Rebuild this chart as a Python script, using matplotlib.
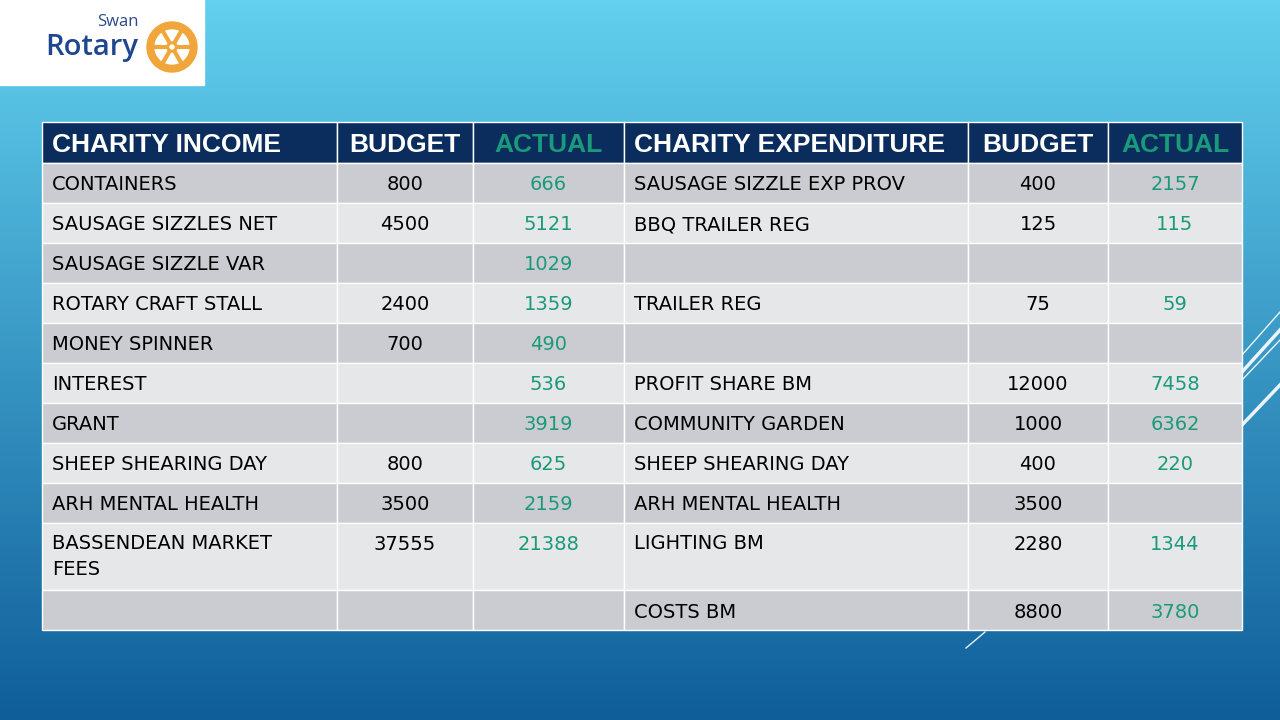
import matplotlib.pyplot as plt
import matplotlib.patches as mpatches
import numpy as np

# data
income_names = ['CONTAINERS', 'SAUSAGE SIZZLES NET', 'SAUSAGE SIZZLE VAR', 'ROTARY CRAFT STALL',
                'MONEY SPINNER', 'INTEREST', 'GRANT', 'SHEEP SHEARING DAY', 'ARH MENTAL HEALTH',
                'BASSENDEAN MARKET\nFEES', '']
income_budget = ['800', '4500', '', '2400', '700', '', '', '800', '3500', '37555', '']
income_actual = ['666', '5121', '1029', '1359', '490', '536', '3919', '625', '2159', '21388', '']
exp_names = ['SAUSAGE SIZZLE EXP PROV', 'BBQ TRAILER REG', '', 'TRAILER REG', '', 'PROFIT SHARE BM',
             'COMMUNITY GARDEN', 'SHEEP SHEARING DAY', 'ARH MENTAL HEALTH', 'LIGHTING BM', 'COSTS BM']
exp_budget = ['400', '125', '', '75', '', '12000', '1000', '400', '3500', '2280', '8800']
exp_actual = ['2157', '115', '', '59', '', '7458', '6362', '220', '', '1344', '3780']
headers = ['CHARITY INCOME', 'BUDGET', 'ACTUAL', 'CHARITY EXPENDITURE', 'BUDGET', 'ACTUAL']

col_x = [42, 337, 473, 624, 968, 1108, 1242]
row_y = [163, 203, 243, 283, 323, 363, 403, 443, 483, 523, 590, 630]
head_top = 122
teal = '#1a9a7a'
navy = '#0b2d5e'
body_font = 'DejaVu Sans'

fig = plt.figure(figsize=(12.8, 7.2), dpi=100)
ax = fig.add_axes([0, 0, 1, 1])
ax.set_xlim(0, 1280)
ax.set_ylim(720, 0)
ax.axis('off')

# background gradient
t = np.linspace(0, 1, 200)[:, None]
top = np.array([0x62, 0xd0, 0xee]) / 255
bot = np.array([0x0f, 0x5e, 0x9a]) / 255
grad = top * (1 - t[..., None]) + bot * t[..., None]
grad = np.repeat(grad, 2, axis=1)
ax.imshow(grad, extent=[0, 1280, 720, 0], aspect='auto', zorder=0)

# decorative lines
for (x0, y0, x1, y1, lw) in [(1242, 355, 1280, 312, 1), (1242, 372, 1280, 330, 2.5),
                             (1242, 380, 1280, 340, 1), (1242, 425, 1280, 385, 2.5),
                             (966, 648, 985, 632, 1)]:
    ax.plot([x0, x1], [y0, y1], color='white', lw=lw, alpha=0.9, zorder=1)

# logo
ax.add_patch(mpatches.Rectangle((0, 0), 204, 85, color='white', zorder=2))
ax.text(139, 22, 'Swan', fontsize=12, color='#2a4a8a', ha='right', va='center', family='Open Sans', zorder=3)
ax.text(138, 48, 'Rotary', fontsize=21, color='#1f4690', ha='right', va='center',
        family='Open Sans', fontweight='semibold', zorder=3)
gold = '#f0a63a'
cx, cy = 172, 47
ax.add_patch(mpatches.Circle((cx, cy), 25, color=gold, zorder=3))
ax.add_patch(mpatches.Circle((cx, cy), 17, color='white', zorder=3))
for a in np.linspace(0, 2 * np.pi, 6, endpoint=False):
    ax.plot([cx, cx + 17 * np.cos(a)], [cy, cy + 17 * np.sin(a)], color=gold, lw=3, zorder=4)
ax.add_patch(mpatches.Circle((cx, cy), 5, color=gold, zorder=4))
ax.add_patch(mpatches.Circle((cx, cy), 2, color='white', zorder=4))

# header
for i, h in enumerate(headers):
    ax.add_patch(mpatches.Rectangle((col_x[i], head_top), col_x[i + 1] - col_x[i], row_y[0] - head_top,
                                    facecolor=navy, edgecolor='white', lw=1, zorder=2))
    c = teal if h == 'ACTUAL' else 'white'
    ym = (head_top + row_y[0]) / 2 + 2
    if i in (0, 3):
        ax.text(col_x[i] + 10, ym, h, color=c, fontsize=19, fontweight='bold',
                family='Liberation Sans', ha='left', va='center', zorder=3)
    else:
        ax.text((col_x[i] + col_x[i + 1]) / 2, ym, h, color=c, fontsize=19,
                fontweight='bold', family='Liberation Sans', ha='center', va='center', zorder=3)

# body
cols = [income_names, income_budget, income_actual, exp_names, exp_budget, exp_actual]
for r in range(len(income_names)):
    y0, y1 = row_y[r], row_y[r + 1]
    fc = '#cbccd1' if r % 2 == 0 else '#e6e7e9'
    tall = (y1 - y0) > 45
    for i, col in enumerate(cols):
        ax.add_patch(mpatches.Rectangle((col_x[i], y0), col_x[i + 1] - col_x[i], y1 - y0,
                                        facecolor=fc, edgecolor='white', lw=1, zorder=2))
        txt = col[r]
        if not txt:
            continue
        yy = y0 + 21 if tall else (y0 + y1) / 2 + 2
        c = teal if i in (2, 5) else 'black'
        if i in (0, 3):
            ax.text(col_x[i] + 10, y0 + 11 if tall else yy, txt, color=c, fontsize=14, family=body_font,
                    ha='left', va='top' if tall else 'center', linespacing=1.45, zorder=3)
        else:
            ax.text((col_x[i] + col_x[i + 1]) / 2, yy, txt, color=c, fontsize=14, family=body_font,
                    ha='center', va='center', zorder=3)

fig.savefig('out.png', dpi=100)
